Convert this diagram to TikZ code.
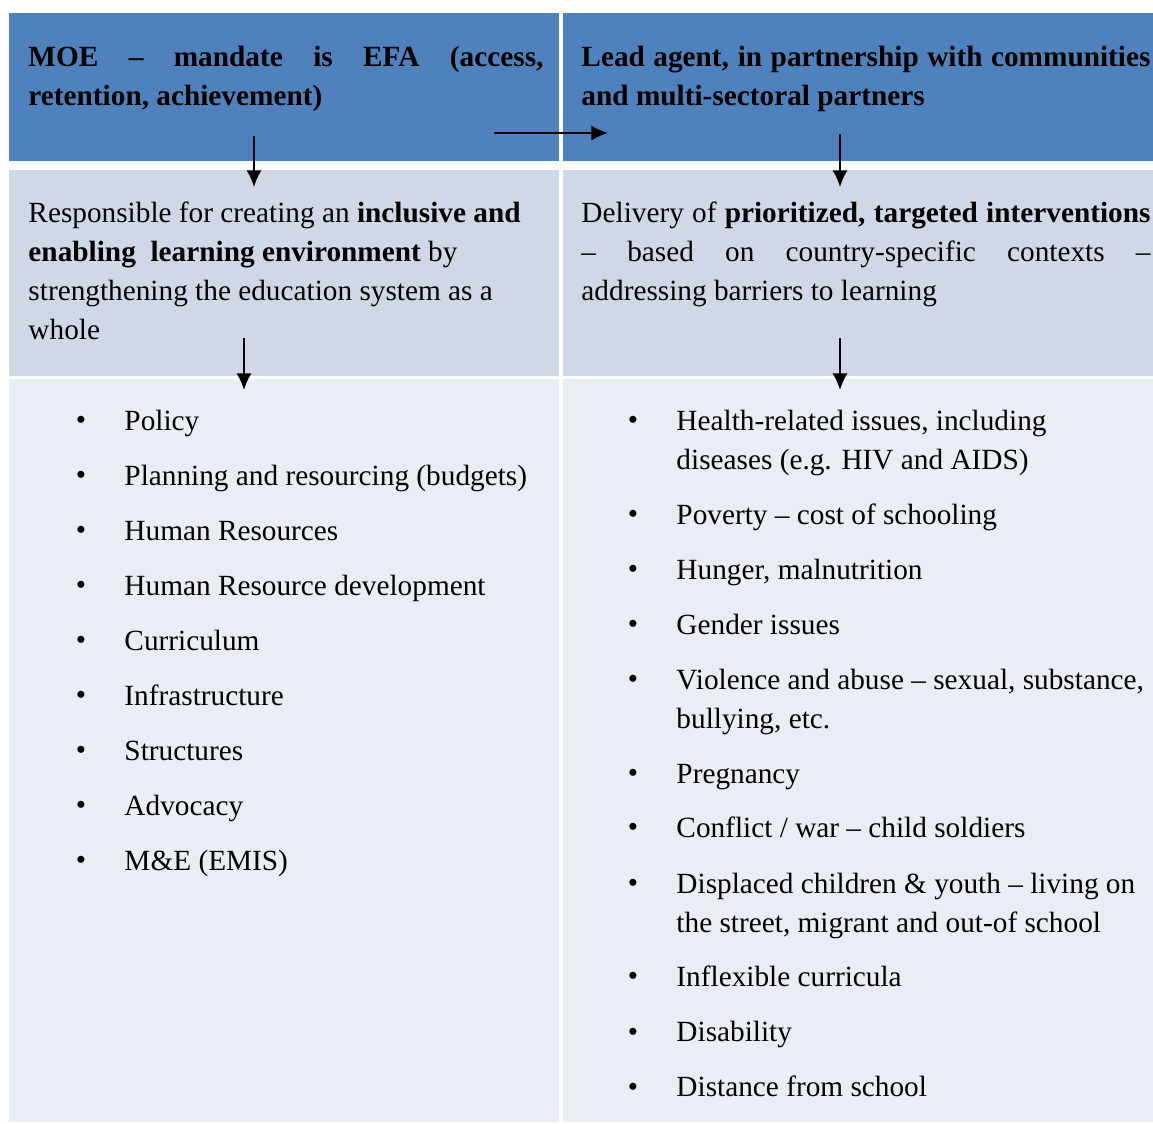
\documentclass[tikz,border=0pt]{standalone}
\usepackage{fontspec}
\setmainfont{Liberation Serif}
\usetikzlibrary{arrows.meta}
\definecolor{hdblue}{HTML}{4F81BD}
\definecolor{midband}{HTML}{D0D8E8}
\definecolor{lowband}{HTML}{E9EDF4}
\newcommand{\listitem}[4]{%
  \node[dot] (#1dot) at (#2,#3) {\textbullet};
  \node[entry] (#1) at (#2+43,#3) {\strut #4};}

\begin{document}
\begin{tikzpicture}[x=0.42pt,y=-0.42pt,
    every node/.style={font=\fontsize{12.3}{16.4}\selectfont,inner sep=0pt},
    dot/.style={anchor=base},
    entry/.style={anchor=north west,yshift=11.48pt,align=left},
    para/.style={anchor=north west,yshift=11.48pt},
    flow/.style={line width=0.85pt,-{Latex[length=7pt,width=6.4pt]}}]

        \useasboundingbox (0,0) rectangle (1153,1124);
        \fill[white] (0,0) rectangle (1153,1124);
        \fill[hdblue] (9,13) rectangle (559,161);
        \fill[hdblue] (563,13) rectangle (1153,161);
        \fill[midband] (9,170) rectangle (559,376);
        \fill[midband] (563,170) rectangle (1153,376);
        \fill[lowband] (9,379) rectangle (559,1122);
        \fill[lowband] (563,379) rectangle (1153,1122);

        \node[para,text width=216.3pt,align=justify] (moe) at (28,66)
            {\strut\textbf{MOE – mandate is EFA (access,\linebreak retention, achievement)}};
        \node[para,text width=239pt,align=justify] (lead) at (581,66)
            {\strut\textbf{Lead agent, in partnership with communities\linebreak and multi-sectoral partners}};
        \node[para,align=left] (resp) at (28,222)
            {\strut Responsible for creating an \textbf{inclusive and}\\\textbf{enabling\ \ learning environment} by\\strengthening the education system as a\\whole};
        \node[para,text width=239pt,align=justify] (deliv) at (581,222)
            {\strut Delivery of \textbf{prioritized, targeted interventions}\linebreak – based on country-specific contexts –\linebreak addressing barriers to learning};

        \coordinate (moeout) at (254,136);
        \coordinate (respin) at (254,187);
        \coordinate (moeright) at (494,133);
        \coordinate (leadin) at (608,133);
        \coordinate (leadout) at (840,134);
        \coordinate (delivin) at (840,187);
        \coordinate (respout) at (244,338);
        \coordinate (sysin) at (244,390);
        \coordinate (delivout) at (840,338);
        \coordinate (barrin) at (840,390);
        \draw[flow] (moeout) -- (respin);
        \draw[flow] (moeright) -- (leadin);
        \draw[flow] (leadout) -- (delivin);
        \draw[flow] (respout) -- (sysin);
        \draw[flow] (delivout) -- (barrin);

        \listitem{policy}{81}{430}{Policy}
        \listitem{plan}{81}{485}{Planning and resourcing (budgets)}
        \listitem{hr}{81}{540}{Human Resources}
        \listitem{hrd}{81}{595}{Human Resource development}
        \listitem{curr}{81}{650}{Curriculum}
        \listitem{infra}{81}{705}{Infrastructure}
        \listitem{struct}{81}{760}{Structures}
        \listitem{advoc}{81}{815}{Advocacy}
        \listitem{me}{81}{870}{M\&E (EMIS)}

        \listitem{health}{633}{430}{Health-related issues, including\\diseases (e.g. HIV and AIDS)}
        \listitem{poverty}{633}{524}{Poverty – cost of schooling}
        \listitem{hunger}{633}{579}{Hunger, malnutrition}
        \listitem{gender}{633}{634}{Gender issues}
        \listitem{violence}{633}{689}{Violence and abuse – sexual, substance,\\bullying, etc.}
        \listitem{preg}{633}{783}{Pregnancy}
        \listitem{conflict}{633}{837}{Conflict / war – child soldiers}
        \listitem{displaced}{633}{893}{Displaced children \& youth – living on\\the street, migrant and out-of school}
        \listitem{inflex}{633}{986}{Inflexible curricula}
        \listitem{disab}{633}{1041}{Disability}
        \listitem{dist}{633}{1096}{Distance from school}
    \end{tikzpicture}
\end{document}
